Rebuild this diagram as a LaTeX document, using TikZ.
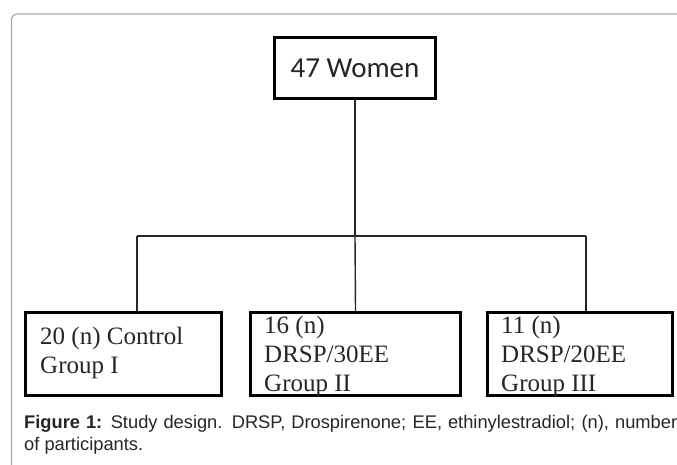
\documentclass[tikz,border=0pt]{standalone}
\usepackage{fontspec}
\setmainfont{Liberation Serif}
\newfontfamily\capfont{Liberation Sans}
\newfontfamily\calfont{Carlito}
\begin{document}
\begin{tikzpicture}[x=1pt,y=-1pt,
  frame/.style={draw=black!33, line width=1.2pt, rounded corners=6pt},
  topbox/.style={draw=black, line width=3.5pt, minimum width=161pt, minimum height=61pt, inner sep=0pt, font=\calfont\fontsize{29}{34}\selectfont, text=black!85},
  grpbox/.style={draw=black, line width=3.5pt, inner sep=0pt},
  grptext/.style={anchor=north west, inner sep=0pt, align=left, font=\fontsize{25}{29}\selectfont, text=black!85},
  conn/.style={draw=black!85, line width=1.4pt}
]
\clip (0,0) rectangle (677,464);
\fill[white] (0,0) rectangle (677,464);
\draw[frame] (11.5,480) -- (11.5,14) -- (700,14);

\node[topbox] (top) at (355,68) {47 Women};

\node[grpbox, minimum width=196pt, minimum height=83pt] (g1) at (123.5,354) {};
\node[grpbox, minimum width=210pt, minimum height=83pt] (g2) at (355.5,354) {};
\node[grpbox, minimum width=185pt, minimum height=83pt] (g3) at (580,354) {};

\node[grptext] (t1) at (40,327) {20 (n) Control\\Group I};
\node[grptext] (t2) at (264,316) {16 (n)\\DRSP/30EE\\Group II};
\node[grptext] (t3) at (501,316) {11 (n)\\DRSP/20EE\\Group III};

\coordinate (j) at (355,236);
\coordinate (c1) at (137,236);
\coordinate (c3) at (586,236);
\draw[conn] (top.south) -- (j);
\draw[conn] (c1) -- (c3);
\draw[conn] (c1) -- (c1 |- g1.north);
\draw[conn] (j) -- (g2.north);
\draw[conn] (c3) -- (c3 |- g3.north);

\node[anchor=north west, inner sep=0pt, font=\capfont\fontsize{18.3}{22}\selectfont, text=black!85] (cap) at (24,413)
  {\begin{tabular}{@{}l@{}}\hbox to 653pt{\textbf{Figure 1:} Study design. DRSP, Drospirenone; EE, ethinylestradiol; (n), number}\\of participants.\end{tabular}};
\end{tikzpicture}
\end{document}
